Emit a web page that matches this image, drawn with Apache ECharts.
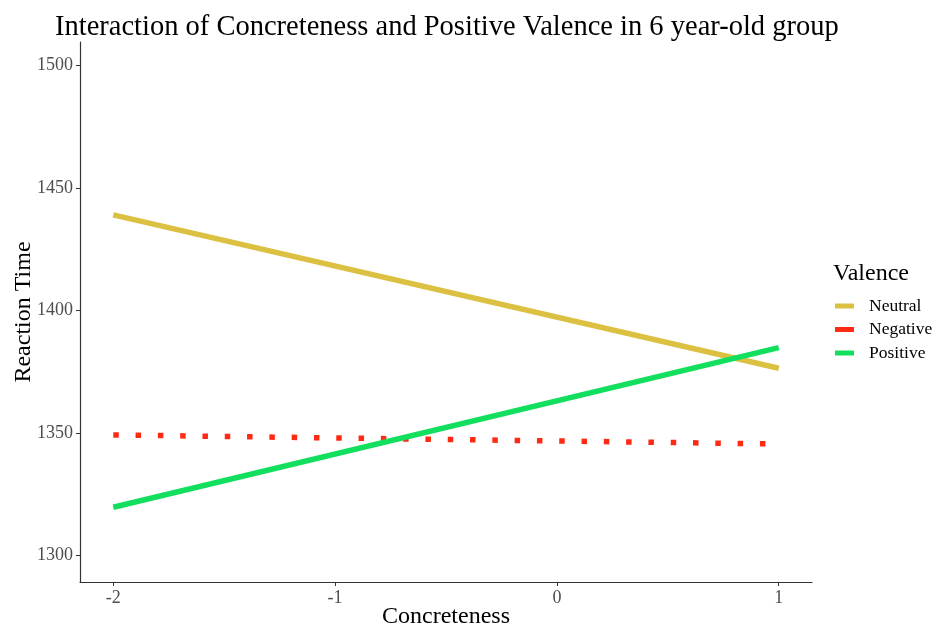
<!DOCTYPE html>
<html>
<head>
<meta charset="utf-8">
<script src="https://cdn.jsdelivr.net/npm/echarts@6/dist/echarts.min.js"></script>
<style>
  html, body { margin: 0; padding: 0; background: #fff; }
  #chart { width: 938px; height: 628px; }
</style>
</head>
<body>
<div id="chart"></div>
<script>
// Fitted reaction-time lines at the ends of the concreteness range
const concreteness = [-2, 1];
const neutralRT = [1439.0, 1376.4];
const negativeRT = [1349.2, 1345.5];
const positiveRT = [1319.7, 1384.8];
const xTicks = [-2, -1, 0, 1];
const yTicks = [1300, 1350, 1400, 1450, 1500];

const serif = '"Liberation Serif", "DejaVu Serif", serif';
const colors = { Neutral: '#dcc042', Negative: '#ff2a14', Positive: '#12df5e' };

function pairs(ys) { return concreteness.map((x, i) => [x, ys[i]]); }

const chart = echarts.init(document.getElementById('chart'));
chart.setOption({
  animation: false,
  backgroundColor: '#ffffff',
  textStyle: { fontFamily: serif },
  title: {
    text: 'Interaction of Concreteness and Positive Valence in 6 year-old group',
    left: 50, top: 8,
    textStyle: { fontFamily: serif, fontSize: 28.5, fontWeight: 'normal', color: '#000' }
  },
  grid: { left: 80, right: 126, top: 42, bottom: 46, containLabel: false, outerBoundsMode: 'none' },
  legend: {
    orient: 'vertical',
    left: 835, top: 297, padding: 0,
    itemWidth: 19, itemHeight: 5, itemGap: 5.5,
    icon: 'rect',
    textStyle: { fontFamily: serif, fontSize: 17.5, lineHeight: 18, color: '#000', padding: [0, 0, 0, 10] },
    data: ['Neutral', 'Negative', 'Positive']
  },
  graphic: [{
    type: 'text', left: 833, top: 262,
    style: { text: 'Valence', font: '24px ' + serif, fill: '#000' }
  }],
  xAxis: {
    type: 'value', min: -2.15, max: 1.15,
    name: 'Concreteness', nameLocation: 'middle', nameGap: 23, nameMoveOverlap: false,
    nameTextStyle: { fontFamily: serif, fontSize: 24, color: '#000' },
    axisLine: { onZero: false, lineStyle: { color: '#333', width: 1.2 } },
    axisTick: { show: true, length: 4, lineStyle: { color: '#333' },
      customValues: xTicks },
    axisLabel: { fontFamily: serif, fontSize: 18, color: '#4d4d4d', margin: 7,
      customValues: xTicks, formatter: v => String(v) },
    splitLine: { show: false }
  },
  yAxis: {
    type: 'value', min: 1289.2, max: 1509.5,
    name: 'Reaction Time', nameLocation: 'middle', nameGap: 44, nameRotate: 90, nameMoveOverlap: false,
    nameTextStyle: { fontFamily: serif, fontSize: 24, color: '#000' },
    axisLine: { show: true, onZero: false, lineStyle: { color: '#333', width: 1.2 } },
    axisTick: { show: true, length: 4, lineStyle: { color: '#333' },
      customValues: yTicks },
    axisLabel: { fontFamily: serif, fontSize: 18, color: '#4d4d4d', margin: 7,
      customValues: yTicks, formatter: v => String(v) },
    splitLine: { show: false }
  },
  series: [
    { name: 'Neutral', type: 'line', data: pairs(neutralRT), showSymbol: false,
      color: colors.Neutral, lineStyle: { width: 5.5, cap: 'butt' } },
    { name: 'Negative', type: 'line', data: pairs(negativeRT), showSymbol: false,
      color: colors.Negative, lineStyle: { width: 5.5, type: [5.5, 16.8], cap: 'butt' } },
    { name: 'Positive', type: 'line', data: pairs(positiveRT), showSymbol: false,
      color: colors.Positive, lineStyle: { width: 5.5, cap: 'butt' } }
  ]
});
</script>
</body>
</html>
